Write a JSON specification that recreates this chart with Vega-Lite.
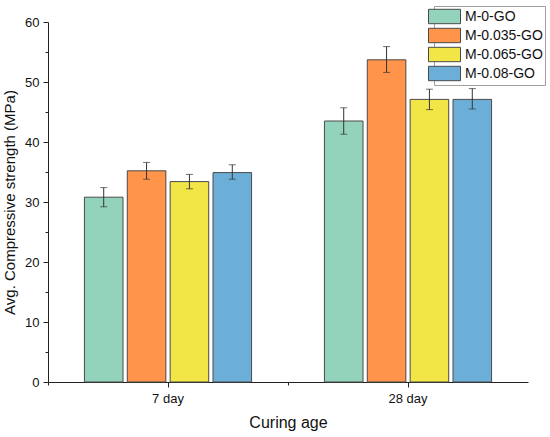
{
  "$schema": "https://vega.github.io/schema/vega-lite/v6.json",
  "width": 480,
  "height": 360,
  "autosize": {"type": "none"},
  "padding": {"left": 48, "top": 22, "right": 22, "bottom": 55},
  "background": "white",
  "data": {
    "values": [
      {"age": "7 day", "mix": "M-0-GO", "value": 30.8, "lo": 29.2, "hi": 32.4},
      {"age": "7 day", "mix": "M-0.035-GO", "value": 35.2, "lo": 33.8, "hi": 36.6},
      {"age": "7 day", "mix": "M-0.065-GO", "value": 33.4, "lo": 32.2, "hi": 34.6},
      {"age": "7 day", "mix": "M-0.08-GO", "value": 34.9, "lo": 33.8, "hi": 36.2},
      {"age": "28 day", "mix": "M-0-GO", "value": 43.5, "lo": 41.3, "hi": 45.7},
      {"age": "28 day", "mix": "M-0.035-GO", "value": 53.7, "lo": 51.6, "hi": 55.9},
      {"age": "28 day", "mix": "M-0.065-GO", "value": 47.1, "lo": 45.4, "hi": 48.8},
      {"age": "28 day", "mix": "M-0.08-GO", "value": 47.1, "lo": 45.5, "hi": 48.9}
    ]
  },
  "encoding": {
    "x": {
      "field": "age",
      "type": "nominal",
      "sort": ["7 day", "28 day"],
      "scale": {"paddingInner": 0, "paddingOuter": 0},
      "axis": null
    },
    "xOffset": {
      "field": "mix",
      "type": "nominal",
      "sort": ["M-0-GO", "M-0.035-GO", "M-0.065-GO", "M-0.08-GO"],
      "scale": {"paddingInner": 0.1, "paddingOuter": 0.85}
    }
  },
  "layer": [
    {
      "mark": {"type": "bar", "stroke": "#4a4a4a", "strokeWidth": 1},
      "encoding": {
        "x": {
          "field": "age",
          "type": "nominal",
          "sort": ["7 day", "28 day"],
          "scale": {"paddingInner": 0, "paddingOuter": 0},
          "title": "Curing age",
          "axis": {
            "orient": "bottom",
            "labelAngle": 0,
            "labelFontSize": 13,
            "labelPadding": 5,
            "titleFontSize": 16,
            "titleFontWeight": "normal",
            "titlePadding": 9,
            "tickSize": 5,
            "domainColor": "#222",
            "tickColor": "#222",
            "labelColor": "#111",
            "titleColor": "#111"
          }
        },
        "y": {
          "field": "value",
          "type": "quantitative",
          "scale": {"domain": [0, 60], "nice": false},
          "title": "Avg. Compressive strength (MPa)",
          "axis": {
            "orient": "left",
            "values": [0, 10, 20, 30, 40, 50, 60],
            "grid": false,
            "labelFontSize": 13,
            "labelPadding": 4,
            "titleFontSize": 15,
            "titleFontWeight": "normal",
            "titlePadding": 7,
            "tickSize": 5,
            "domainColor": "#222",
            "tickColor": "#222",
            "labelColor": "#111",
            "titleColor": "#111"
          }
        },
        "color": {
          "field": "mix",
          "type": "nominal",
          "sort": ["M-0-GO", "M-0.035-GO", "M-0.065-GO", "M-0.08-GO"],
          "scale": {"range": ["#93d3bc", "#ff944a", "#f2e646", "#6bafd9"]},
          "legend": {
            "title": null,
            "orient": "none",
            "legendX": 386,
            "legendY": -16,
            "fillColor": "white",
            "strokeColor": "#a0a0a0",
            "padding": 2,
            "labelFontSize": 14,
            "labelColor": "#111",
            "labelOffset": 12,
            "rowPadding": 0,
            "symbolType": "M-2,-0.9H2V0.9H-2Z",
            "symbolSize": 256,
            "symbolStrokeColor": "#4a4a4a",
            "symbolStrokeWidth": 1,
            "symbolOpacity": 1
          }
        }
      }
    },
    {
      "mark": {"type": "rule", "color": "#333", "strokeWidth": 1},
      "encoding": {
        "x": {
          "field": "age",
          "type": "nominal",
          "sort": ["7 day", "28 day"],
          "scale": {"paddingInner": 0, "paddingOuter": 0},
          "axis": {
            "orient": "bottom",
            "bandPosition": 0,
            "labels": false,
            "domain": false,
            "tickSize": 3,
            "tickColor": "#222",
            "title": null
          }
        },
        "y": {"field": "lo", "type": "quantitative", "axis": null},
        "y2": {"field": "hi"}
      }
    },
    {
      "mark": {"type": "tick", "color": "#333", "size": 7, "thickness": 1},
      "encoding": {
        "y": {"field": "lo", "type": "quantitative", "axis": null}
      }
    },
    {
      "mark": {"type": "tick", "color": "#333", "size": 7, "thickness": 1},
      "encoding": {
        "y": {
          "field": "hi",
          "type": "quantitative",
          "axis": {
            "orient": "left",
            "values": [5, 15, 25, 35, 45, 55],
            "labels": false,
            "domain": false,
            "grid": false,
            "tickSize": 3,
            "tickColor": "#222",
            "title": null
          }
        }
      }
    }
  ],
  "resolve": {"axis": {"x": "independent", "y": "independent"}},
  "config": {
    "font": "Liberation Sans",
    "view": {"stroke": null}
  }
}
